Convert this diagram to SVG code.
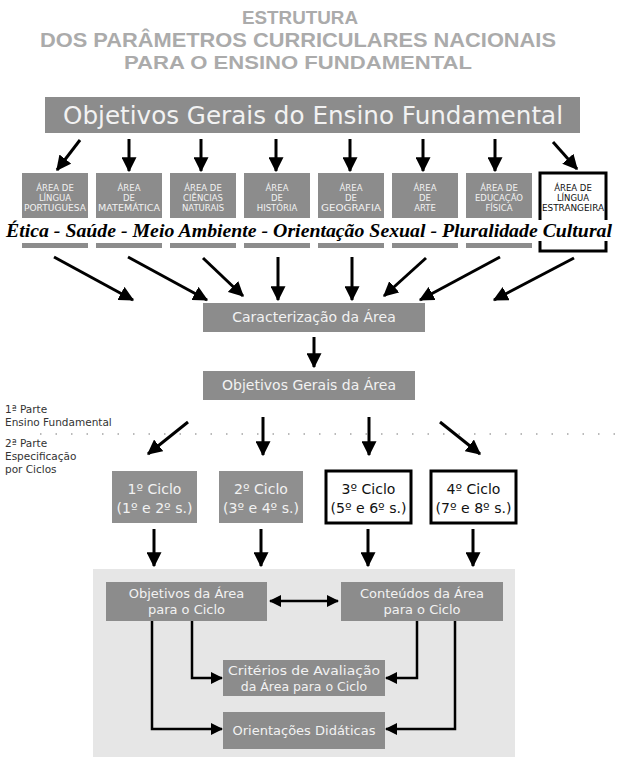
<svg xmlns="http://www.w3.org/2000/svg" width="624" height="769" viewBox="0 0 624 769">
<defs>
<marker id="ah" viewBox="0 0 12 12" refX="11" refY="6" markerWidth="15" markerHeight="15" markerUnits="userSpaceOnUse" orient="auto-start-reverse">
<path d="M0,0 L12,6 L0,12 z" fill="#000"/>
</marker>
<marker id="ahs" viewBox="0 0 12 12" refX="11" refY="6" markerWidth="12" markerHeight="12" markerUnits="userSpaceOnUse" orient="auto-start-reverse">
<path d="M0,0 L12,6 L0,12 z" fill="#000"/>
</marker>
</defs>
<style>
.title{font-family:"Liberation Sans",Arial,sans-serif;font-weight:bold;fill:#ababab;text-anchor:middle}
.gbox{fill:#8c8c8c}
.wtxt{font-family:"DejaVu Sans",sans-serif;fill:#f2f2f2;text-anchor:middle}
.btxt{font-family:"DejaVu Sans",sans-serif;fill:#111;text-anchor:middle}
.small{font-size:8.5px}
.bbox{fill:#fff;stroke:#000;stroke-width:3}
.arr{stroke:#000;stroke-width:3;fill:none;marker-end:url(#ah)}
.conn{stroke:#000;stroke-width:2.5;fill:none;marker-end:url(#ahs)}
.side{font-family:"DejaVu Sans",sans-serif;font-size:10.5px;fill:#333}
.script{font-family:"Liberation Serif","Times New Roman",serif;font-style:italic;font-weight:bold;font-size:19px;fill:#000}
</style>
<rect width="624" height="769" fill="#fff"/>
<g id="title">
<text class="title" x="300" y="24" font-size="19" textLength="116" lengthAdjust="spacingAndGlyphs">ESTRUTURA</text>
<text class="title" x="298" y="47" font-size="21" textLength="516" lengthAdjust="spacingAndGlyphs">DOS PARÂMETROS CURRICULARES NACIONAIS</text>
<text class="title" x="298" y="69" font-size="19" textLength="348" lengthAdjust="spacingAndGlyphs">PARA O ENSINO FUNDAMENTAL</text>
</g>
<g id="objetivos-gerais-ef">
<rect class="gbox" x="45" y="97" width="535" height="36"/>
<text class="wtxt" x="313" y="124" font-size="25" textLength="500" lengthAdjust="spacingAndGlyphs">Objetivos Gerais do Ensino Fundamental</text>
</g>
<g id="area-portugues">
<rect class="gbox" x="22" y="173" width="66" height="45"/><rect class="gbox" x="22" y="243" width="66" height="5"/>
<text class="wtxt small" x="55" y="191">ÁREA DE</text><text class="wtxt small" x="55" y="201">LÍNGUA</text><text class="wtxt small" x="55" y="211" textLength="62" lengthAdjust="spacingAndGlyphs">PORTUGUESA</text>
</g>
<g id="area-matematica">
<rect class="gbox" x="96" y="173" width="66" height="45"/><rect class="gbox" x="96" y="243" width="66" height="5"/>
<text class="wtxt small" x="129" y="191">ÁREA</text><text class="wtxt small" x="129" y="201">DE</text><text class="wtxt small" x="129" y="211" textLength="62" lengthAdjust="spacingAndGlyphs">MATEMÁTICA</text>
</g>
<g id="area-ciencias">
<rect class="gbox" x="170" y="173" width="66" height="45"/><rect class="gbox" x="170" y="243" width="66" height="5"/>
<text class="wtxt small" x="203" y="191">ÁREA DE</text><text class="wtxt small" x="203" y="201">CIÊNCIAS</text><text class="wtxt small" x="203" y="211">NATURAIS</text>
</g>
<g id="area-historia">
<rect class="gbox" x="244" y="173" width="66" height="45"/><rect class="gbox" x="244" y="243" width="66" height="5"/>
<text class="wtxt small" x="277" y="191">ÁREA</text><text class="wtxt small" x="277" y="201">DE</text><text class="wtxt small" x="277" y="211">HISTÓRIA</text>
</g>
<g id="area-geografia">
<rect class="gbox" x="318" y="173" width="66" height="45"/><rect class="gbox" x="318" y="243" width="66" height="5"/>
<text class="wtxt small" x="351" y="191">ÁREA</text><text class="wtxt small" x="351" y="201">DE</text><text class="wtxt small" x="351" y="211" textLength="60" lengthAdjust="spacingAndGlyphs">GEOGRAFIA</text>
</g>
<g id="area-arte">
<rect class="gbox" x="392" y="173" width="66" height="45"/><rect class="gbox" x="392" y="243" width="66" height="5"/>
<text class="wtxt small" x="425" y="191">ÁREA</text><text class="wtxt small" x="425" y="201">DE</text><text class="wtxt small" x="425" y="211">ARTE</text>
</g>
<g id="area-ed-fisica">
<rect class="gbox" x="466" y="173" width="66" height="45"/><rect class="gbox" x="466" y="243" width="66" height="5"/>
<text class="wtxt small" x="499" y="191">ÁREA DE</text><text class="wtxt small" x="499" y="201">EDUCAÇÃO</text><text class="wtxt small" x="499" y="211">FÍSICA</text>
</g>
<g id="area-estrangeira">
<rect class="bbox" x="540" y="173" width="66" height="78"/>
<text class="btxt small" x="573" y="191">ÁREA DE</text><text class="btxt small" x="573" y="201">LÍNGUA</text><text class="btxt small" x="573" y="211" textLength="62" lengthAdjust="spacingAndGlyphs">ESTRANGEIRA</text>
</g>
<g id="temas-transversais">
<rect x="0" y="220" width="624" height="21" fill="#fff"/>
<text class="script" x="6" y="237" textLength="606" lengthAdjust="spacingAndGlyphs">Ética - Saúde - Meio Ambiente - Orientação Sexual - Pluralidade Cultural</text>
</g>
<g id="caracterizacao">
<rect class="gbox" x="203" y="303" width="222" height="29"/>
<text class="wtxt" x="314" y="322" font-size="14">Caracterização da Área</text>
</g>
<g id="objetivos-area">
<rect class="gbox" x="203" y="371" width="212" height="29"/>
<text class="wtxt" x="309" y="390" font-size="14">Objetivos Gerais da Área</text>
</g>
<g id="partes">
<text class="side" x="5" y="413">1ª Parte</text>
<text class="side" x="5" y="426">Ensino Fundamental</text>
<line x1="40" y1="434" x2="620" y2="434" stroke="#777" stroke-width="1.2" stroke-dasharray="1.5,14"/>
<text class="side" x="5" y="447">2ª Parte</text>
<text class="side" x="5" y="460">Especificação</text>
<text class="side" x="5" y="473">por Ciclos</text>
</g>
<g id="ciclo1">
<rect fill="#8f8f8f" x="112" y="471" width="85" height="52"/>
<text class="wtxt" x="154.5" y="494" font-size="14">1º Ciclo</text>
<text class="wtxt" x="154.5" y="513" font-size="14" textLength="76" lengthAdjust="spacingAndGlyphs">(1º e 2º s.)</text>
</g>
<g id="ciclo2">
<rect fill="#8f8f8f" x="219" y="471" width="84" height="52"/>
<text class="wtxt" x="261" y="494" font-size="14">2º Ciclo</text>
<text class="wtxt" x="261" y="513" font-size="14" textLength="76" lengthAdjust="spacingAndGlyphs">(3º e 4º s.)</text>
</g>
<g id="ciclo3">
<rect class="bbox" x="326" y="471" width="85" height="52"/>
<text class="btxt" x="368.5" y="494" font-size="14">3º Ciclo</text>
<text class="btxt" x="368.5" y="513" font-size="14" textLength="76" lengthAdjust="spacingAndGlyphs">(5º e 6º s.)</text>
</g>
<g id="ciclo4">
<rect class="bbox" x="431" y="471" width="85" height="52"/>
<text class="btxt" x="473.5" y="494" font-size="14">4º Ciclo</text>
<text class="btxt" x="473.5" y="513" font-size="14" textLength="76" lengthAdjust="spacingAndGlyphs">(7º e 8º s.)</text>
</g>
<g id="painel">
<rect x="93" y="569" width="422" height="188" fill="#e6e6e6"/>
</g>
<g id="objetivos-ciclo">
<rect class="gbox" x="106" y="582" width="161" height="39"/>
<text class="wtxt" x="186.5" y="598" font-size="13">Objetivos da Área</text>
<text class="wtxt" x="186.5" y="614" font-size="13">para o Ciclo</text>
</g>
<g id="conteudos-ciclo">
<rect class="gbox" x="341" y="582" width="162" height="39"/>
<text class="wtxt" x="422" y="598" font-size="13">Conteúdos da Área</text>
<text class="wtxt" x="422" y="614" font-size="13">para o Ciclo</text>
</g>
<g id="criterios">
<rect class="gbox" x="223" y="660" width="162" height="36"/>
<text class="wtxt" x="304" y="675" font-size="12.5" textLength="152" lengthAdjust="spacingAndGlyphs">Critérios de Avaliação</text>
<text class="wtxt" x="304" y="691" font-size="12.5">da Área para o Ciclo</text>
</g>
<g id="orientacoes">
<rect class="gbox" x="223" y="712" width="162" height="37"/>
<text class="wtxt" x="304" y="735" font-size="13">Orientações Didáticas</text>
</g>
<g id="connectors">
<line class="arr" x1="80" y1="140" x2="57" y2="170"/>
<line class="arr" x1="129" y1="139" x2="129" y2="171"/>
<line class="arr" x1="201" y1="139" x2="201" y2="171"/>
<line class="arr" x1="276" y1="139" x2="276" y2="171"/>
<line class="arr" x1="350" y1="139" x2="350" y2="171"/>
<line class="arr" x1="423" y1="139" x2="423" y2="171"/>
<line class="arr" x1="495" y1="139" x2="495" y2="171"/>
<line class="arr" x1="553" y1="142" x2="577" y2="169"/>
<line class="arr" x1="54" y1="257" x2="133" y2="300"/>
<line class="arr" x1="128" y1="257" x2="207" y2="300"/>
<line class="arr" x1="203" y1="258" x2="243" y2="296"/>
<line class="arr" x1="278" y1="257" x2="278" y2="300"/>
<line class="arr" x1="352" y1="257" x2="352" y2="300"/>
<line class="arr" x1="426" y1="258" x2="384" y2="296"/>
<line class="arr" x1="500" y1="257" x2="420" y2="300"/>
<line class="arr" x1="574" y1="258" x2="494" y2="300"/>
<line class="arr" x1="314" y1="337" x2="314" y2="367"/>
<line class="arr" x1="188" y1="422" x2="148" y2="454"/>
<line class="arr" x1="263" y1="417" x2="263" y2="455"/>
<line class="arr" x1="369" y1="417" x2="369" y2="455"/>
<line class="arr" x1="440" y1="422" x2="480" y2="454"/>
<line class="arr" x1="154" y1="529" x2="154" y2="566"/>
<line class="arr" x1="261" y1="529" x2="261" y2="566"/>
<line class="arr" x1="368" y1="529" x2="368" y2="566"/>
<line class="arr" x1="473" y1="529" x2="473" y2="566"/>
<line class="conn" x1="270" y1="601" x2="338" y2="601" marker-start="url(#ahs)"/>
<path class="conn" d="M192,621 V678 H222"/>
<path class="conn" d="M152,621 V729 H222"/>
<path class="conn" d="M417,621 V678 H386"/>
<path class="conn" d="M455,621 V729 H386"/>
</g>
</svg>
